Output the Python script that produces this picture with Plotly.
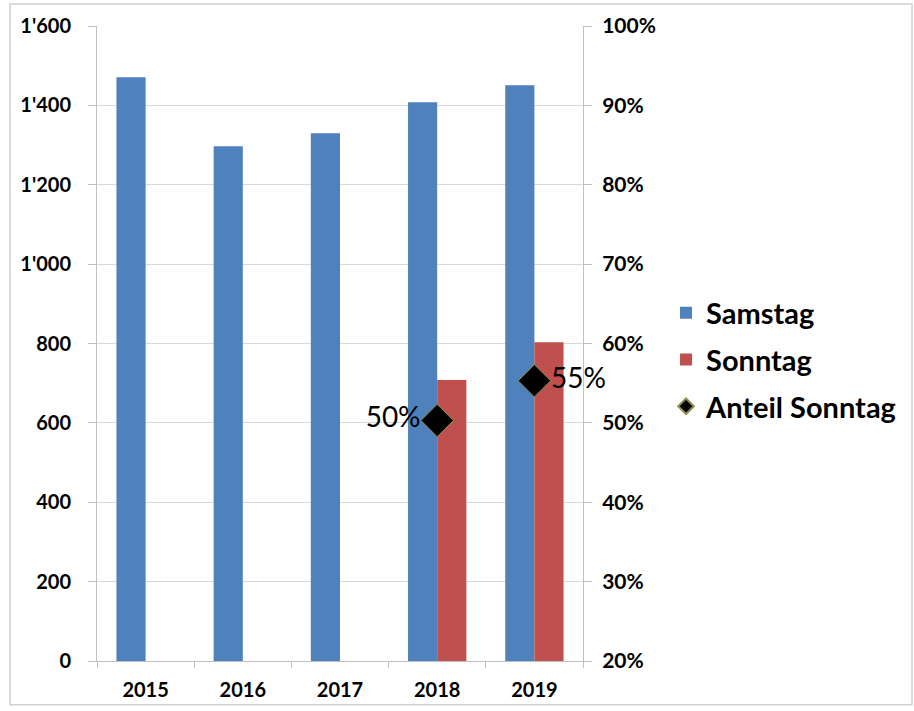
import plotly.graph_objects as go

# Jahre und Werte
jahre = ["2015", "2016", "2017", "2018", "2019"]
samstag = [1471, 1297, 1330, 1408, 1451]
sonntag = [None, None, None, 708, 803]
anteil_sonntag = [None, None, None, 0.503, 0.553]
anteil_textpos = ["middle left", "middle left", "middle left", "middle left", "middle right"]

links_ticks = [0, 200, 400, 600, 800, 1000, 1200, 1400, 1600]
links_labels = ["0", "200", "400", "600", "800", "1'000", "1'200", "1'400", "1'600"]
rechts_ticks = [0.2, 0.3, 0.4, 0.5, 0.6, 0.7, 0.8, 0.9, 1.0]

FONT = "Lato"
GRID = "#d9d9d9"
AXIS = "#bfbfbf"

fig = go.Figure()
fig.add_trace(go.Bar(
    x=jahre, y=samstag, name="Samstag",
    marker=dict(color="#4F81BD", line=dict(width=0)),
    legendgroup="a",
))
fig.add_trace(go.Bar(
    x=jahre, y=sonntag, name="Sonntag",
    marker=dict(color="#C0504D", line=dict(width=0)),
    legendgroup="b",
))
fig.add_trace(go.Scatter(
    x=jahre, y=anteil_sonntag, name="Anteil Sonntag",
    yaxis="y2", mode="markers+text",
    marker=dict(symbol="diamond", size=25, color="black",
                line=dict(color="#8f8f4a", width=1)),
    texttemplate="%{y:.0%}",
    textposition=anteil_textpos,
    textfont=dict(family=FONT, size=28, color="black"),
    cliponaxis=False,
    legendgroup="c",
))

fig.update_layout(
    width=914, height=711,
    margin=dict(l=97, r=331, t=26, b=50, autoexpand=False),
    paper_bgcolor="white", plot_bgcolor="white",
    barmode="group", bargap=0.4, bargroupgap=0,
    font=dict(family=FONT, color="black"),
    xaxis=dict(
        type="category",
        showline=True, linecolor=AXIS, linewidth=1,
        ticks="outside", tickson="boundaries", ticklen=6, tickcolor=AXIS,
        tickfont=dict(family=FONT, size=20, color="black", weight="bold"),
        ticklabelstandoff=11,
        showgrid=False,
    ),
    yaxis=dict(
        range=[0, 1600],
        tickvals=links_ticks, ticktext=links_labels,
        showline=True, linecolor=AXIS, linewidth=1,
        ticks="outside", ticklen=8, tickcolor=AXIS,
        tickfont=dict(family=FONT, size=20, color="black", weight="bold"),
        ticklabelstandoff=13,
        showgrid=True, gridcolor=GRID, gridwidth=1,
        zeroline=False,
    ),
    yaxis2=dict(
        overlaying="y", side="right",
        range=[0.2, 1.0],
        tickvals=rechts_ticks, tickformat=".0%",
        showline=True, linecolor=AXIS, linewidth=1,
        ticks="outside", ticklen=8, tickcolor=AXIS,
        tickfont=dict(family=FONT, size=21, color="black", weight="bold"),
        ticklabelstandoff=6,
        showgrid=False, zeroline=False,
    ),
    legend=dict(
        xref="container", yref="container",
        x=0.7287, xanchor="left", y=0.4937, yanchor="middle",
        traceorder="grouped", tracegroupgap=6,
        font=dict(family=FONT, size=29, color="black", weight="bold"),
        itemsizing="constant",
        bgcolor="rgba(0,0,0,0)",
    ),
    showlegend=True,
    shapes=[dict(
        type="rect", xref="paper", yref="paper",
        x0=-0.179, x1=1.677, y0=-0.069, y1=1.0346,
        line=dict(color="#d0d0d0", width=1.5), fillcolor="rgba(0,0,0,0)",
        layer="below",
    )],
)

fig.write_html("out.html")
